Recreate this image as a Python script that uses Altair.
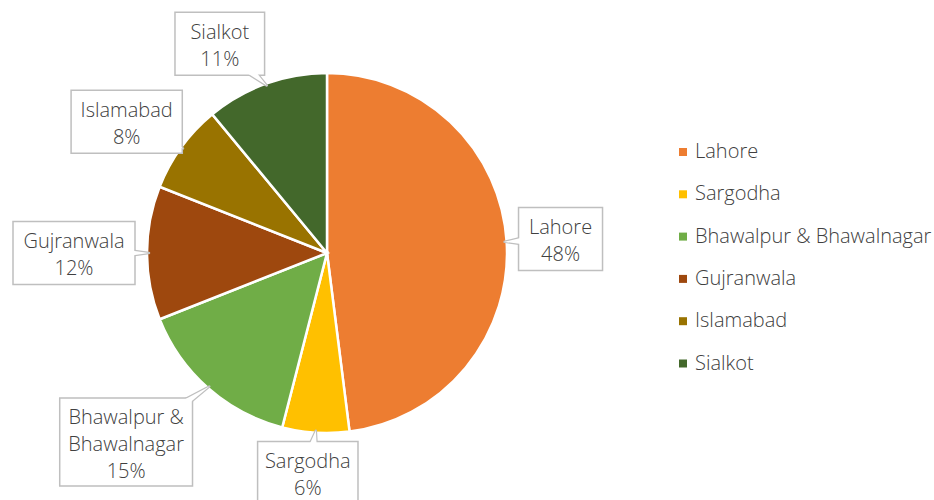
import math
import altair as alt
import pandas as pd

# ---- data ----
cities = ["Lahore", "Sargodha", "Bhawalpur & Bhawalnagar", "Gujranwala", "Islamabad", "Sialkot"]
shares = [48, 6, 15, 12, 8, 11]
label_lines = [["Lahore"], ["Sargodha"], ["Bhawalpur &", "Bhawalnagar"], ["Gujranwala"], ["Islamabad"], ["Sialkot"]]
colors = ["#ED7D31", "#FFC000", "#70AD47", "#9E480E", "#997300", "#43682B"]

df = pd.DataFrame({"city": cities, "share": shares, "idx": list(range(len(cities)))})

# ---- label callout layout (derived from the values) ----
R_PIE = 180
R_ANCHOR = 192
R_TIP = 178
LINE_H = 27
# small manual nudges of some callout boxes (layout only)
nudge = {"Sialkot": (-27, 1), "Bhawalpur & Bhawalnagar": (-30, 12), "Sargodha": (-4, -3)}

total = float(sum(shares))
rows, trail_rows = [], []
cum = 0.0
for city, share, lines in zip(cities, shares, label_lines):
    mid = (cum + share / 2.0) / total
    cum += share
    th = 2 * math.pi * mid
    s, c = math.sin(th), math.cos(th)
    all_lines = lines + [f"{share}%"]
    n = len(all_lines)
    w = max(84, max(len(l) for l in all_lines) * 10.8 + 14)
    h = n * 25 + 13
    ax, ay = R_ANCHOR * s, -R_ANCHOR * c
    dx, dy = nudge.get(city, (0, 0))
    cx, cy = ax + s * w / 2 + dx, ay - c * h / 2 + dy
    rows.append({
        "city": city,
        "text": "\n".join(all_lines),
        "cx": cx, "cy": cy,
        "ty": cy - n * LINE_H / 2 + 6,
        "x1": cx - w / 2, "x2": cx + w / 2,
        "y1": cy - h / 2, "y2": cy + h / 2,
    })
    trail_rows.append({"city": city, "k": 0, "px": R_TIP * s, "py": -R_TIP * c, "wo": 2.5, "wi": 0.2})
    trail_rows.append({"city": city, "k": 1, "px": cx, "py": cy, "wo": 24, "wi": 21})
lab = pd.DataFrame(rows)
trl = pd.DataFrame(trail_rows)

xs = alt.Scale(domain=[-327, 607], nice=False, zero=False)
ys = alt.Scale(domain=[-253, 247], nice=False, zero=False, reverse=True)

FONT = "Open Sans"
GRAY = "#404040"
EDGE = "#BFBFBF"

pie = alt.Chart(df).mark_arc(outerRadius=R_PIE, stroke="white", strokeWidth=2.5).encode(
    theta=alt.Theta("share:Q", stack=True),
    order=alt.Order("idx:Q"),
    color=alt.Color(
        "city:N",
        sort=cities,
        scale=alt.Scale(domain=cities, range=colors),
        legend=alt.Legend(
            orient="none", legendX=673, legendY=142, title=None,
            symbolType="square", symbolSize=64, symbolStrokeWidth=0,
            labelFontSize=20, labelFont=FONT, labelColor=GRAY, labelFontWeight=300,
            rowPadding=22.3, labelLimit=400, labelOffset=2,
        ),
    ),
    x=alt.X(datum=0, type="quantitative", scale=xs, axis=None),
    y=alt.Y(datum=0, type="quantitative", scale=ys, axis=None),
)

tail_outer = alt.Chart(trl).mark_trail(color=EDGE).encode(
    x=alt.X("px:Q", scale=xs, axis=None),
    y=alt.Y("py:Q", scale=ys, axis=None),
    size=alt.Size("wo:Q", scale=None, legend=None),
    detail="city:N",
    order="k:Q",
)
tail_inner = alt.Chart(trl).mark_trail(color="white").encode(
    x=alt.X("px:Q", scale=xs, axis=None),
    y=alt.Y("py:Q", scale=ys, axis=None),
    size=alt.Size("wi:Q", scale=None, legend=None),
    detail="city:N",
    order="k:Q",
)

boxes = alt.Chart(lab).mark_rect(fill="white", stroke=EDGE, strokeWidth=1.5).encode(
    x=alt.X("x1:Q", scale=xs, axis=None), x2="x2:Q",
    y=alt.Y("y1:Q", scale=ys, axis=None), y2="y2:Q",
)

texts = alt.Chart(lab).mark_text(
    lineBreak="\n", fontSize=20, lineHeight=LINE_H, font=FONT, color=GRAY, fontWeight=300,
    align="center", baseline="top",
).encode(
    x=alt.X("cx:Q", scale=xs, axis=None),
    y=alt.Y("ty:Q", scale=ys, axis=None),
    text="text:N",
)

chart = alt.layer(pie, tail_outer, boxes, tail_inner, texts).properties(
    width=934, height=500, padding=0,
    autosize=alt.AutoSizeParams(type="none"),
).configure_view(stroke=None)

chart.save("out.html", embed_options={"renderer": "svg", "actions": False})
